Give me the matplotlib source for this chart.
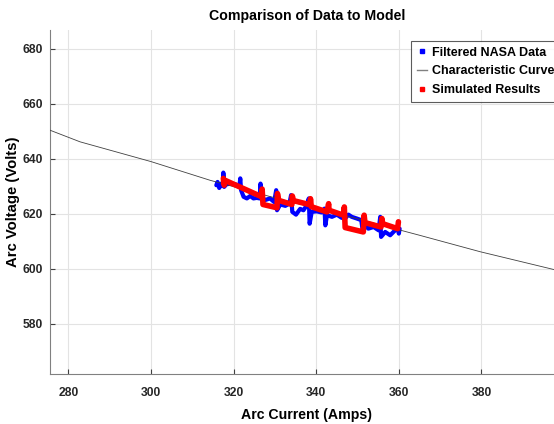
import matplotlib
matplotlib.use("Agg")
import matplotlib.pyplot as plt
from matplotlib.lines import Line2D

plt.rcParams['font.family'] = ['Liberation Sans', 'DejaVu Sans']
plt.rcParams['font.weight'] = 'bold'

# Characteristic curve
curve_current = [275.4, 282.8, 300.0, 314.3, 330.0, 348.2, 365.0, 379.7, 397.6, 400.0]
curve_voltage = [650.5, 646.2, 639.0, 632.2, 625.8, 618.9, 612.2, 606.2, 599.7, 598.8]

# Filtered NASA data (blue)
nasa_current = [315.8, 316.1, 316.5, 317.0, 317.4, 317.5, 317.7, 318.2, 319.2, 320.4,
                321.4, 321.6, 321.8, 322.4, 323.2, 324.0, 324.8, 325.6, 326.3, 326.5,
                326.7, 327.6, 328.8, 329.8, 330.3, 330.5, 331.3, 332.5, 333.5, 333.9,
                334.2, 335.1, 336.1, 336.9, 337.7, 338.2, 338.4, 338.9, 340.1, 341.3,
                342.0, 342.2, 342.6, 343.8, 345.0, 346.2, 346.6, 347.0, 347.8, 348.6,
                349.8, 350.9, 351.3, 351.6, 352.6, 353.9, 355.1, 355.5, 355.7, 356.7,
                357.9, 358.9, 359.7, 360.0, 360.2]
nasa_voltage = [630.4, 631.6, 629.4, 631.0, 630.2, 635.0, 629.8, 630.7, 631.0, 630.7,
                630.2, 632.9, 628.6, 626.2, 625.6, 626.5, 625.6, 625.8, 625.6, 631.0,
                626.2, 625.0, 625.6, 624.3, 628.6, 621.3, 623.4, 622.9, 623.7, 626.8,
                620.7, 619.7, 621.8, 621.3, 623.1, 625.6, 616.4, 620.7, 620.9, 620.5,
                621.9, 615.8, 619.5, 618.9, 619.7, 618.5, 621.3, 618.3, 619.7, 618.9,
                618.3, 617.7, 613.4, 616.4, 614.6, 615.2, 614.0, 618.9, 611.6, 613.4,
                612.2, 613.7, 615.2, 612.8, 614.6]

# Simulated results (red)
sim_current = [317.5, 317.7, 317.9, 326.8, 326.9, 327.1, 330.5, 330.6, 330.9, 334.1,
               334.2, 334.5, 338.5, 338.6, 338.8, 342.6, 343.0, 343.1, 346.6, 346.8,
               347.0, 351.4, 351.6, 351.8, 355.7, 355.9, 356.1, 359.7, 359.9]
sim_voltage = [632.9, 630.4, 632.2, 626.2, 629.0, 623.4, 622.2, 627.4, 624.9, 623.4,
               626.5, 624.8, 623.3, 625.5, 622.6, 620.7, 623.7, 621.3, 619.5, 622.5,
               615.0, 613.4, 619.5, 616.8, 615.2, 618.3, 616.4, 614.6, 617.1]

x_ticks = [280, 300, 320, 340, 360, 380]
y_ticks = [580, 600, 620, 640, 660, 680]

W, H = 554, 424
fig = plt.figure(figsize=(W / 100, H / 100), dpi=100)
left, right, top, bottom = 49.5, 564, 30, 374
ax = fig.add_axes([left / W, (H - bottom) / H, (right - left) / W, (bottom - top) / H])

ax.plot(nasa_current, nasa_voltage, color='#0000ff', lw=3.0, solid_joinstyle='round',
        solid_capstyle='round', zorder=3)
ax.plot(curve_current, curve_voltage, color='#404040', lw=0.6, zorder=4)
ax.plot(sim_current, sim_voltage, color='#ff0000', lw=4.0, solid_joinstyle='round',
        solid_capstyle='round', zorder=5)

ax.set_xlim(275.4, 400)
ax.set_ylim(561.7, 686.9)
ax.set_xticks(x_ticks)
ax.set_yticks(y_ticks)
ax.grid(True, color='#e3e3e3', lw=0.8)
ax.set_axisbelow(True)
for s in ['top', 'right']:
    ax.spines[s].set_visible(False)
for s in ['left', 'bottom']:
    ax.spines[s].set_color('#808080')
    ax.spines[s].set_linewidth(0.8)
ax.tick_params(axis='both', direction='in', length=3.5, width=0.8, color='#404040',
               labelsize=8.7, labelcolor='#262626')
ax.tick_params(axis='x', pad=9.5)
ax.tick_params(axis='y', pad=4.5)
for lab in ax.get_xticklabels() + ax.get_yticklabels():
    lab.set_fontweight('bold')

ax.set_title('Comparison of Data to Model', fontsize=10.2, fontweight='bold', pad=7)
ax.set_xlabel('Arc Current (Amps)', fontsize=10.2, fontweight='bold', labelpad=6)
ax.set_ylabel('Arc Voltage (Volts)', fontsize=10.7, fontweight='bold', labelpad=2)

handles = [
    Line2D([], [], color='#0000ff', marker='s', ms=2.2, ls='none'),
    Line2D([], [], color='#808080', lw=1.0),
    Line2D([], [], color='#ff0000', marker='s', ms=2.2, ls='none'),
]
labels = ['Filtered NASA Data', 'Characteristic Curve', 'Simulated Results']
leg = fig.legend(handles, labels, loc='upper left',
                 bbox_to_anchor=(411 / W, 1 - 41 / H),
                 prop={'weight': 'bold', 'size': 9},
                 frameon=True, fancybox=False, edgecolor='#333333',
                 handlelength=0.8, handletextpad=0.4, labelspacing=0.55,
                 borderpad=0.45, borderaxespad=0)
leg.get_frame().set_linewidth(0.8)

fig.savefig('out.png', dpi=100)
